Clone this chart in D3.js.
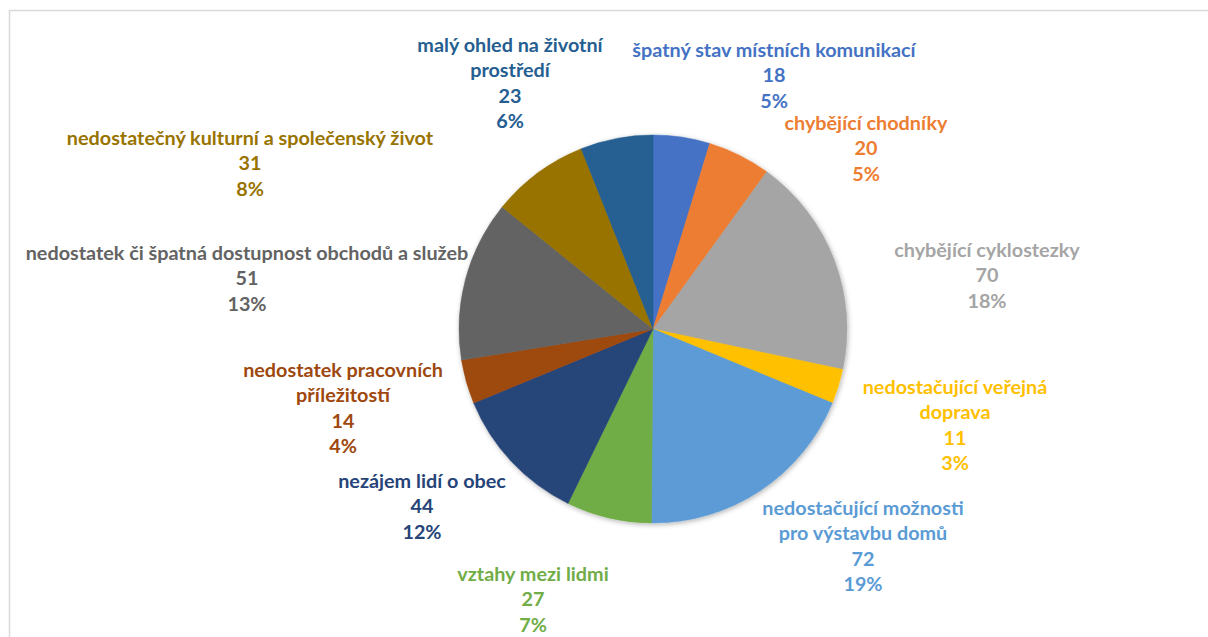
<!DOCTYPE html>
<html>
<head>
<meta charset="utf-8">
<script src="https://cdn.jsdelivr.net/npm/d3@7"></script>
<style>
  body { margin: 0; background: #fff; }
  text { font-family: Lato, "Open Sans", sans-serif; font-weight: bold; }
</style>
</head>
<body>
<svg width="1208" height="637"></svg>
<script>
// data
var categories = [
  "špatný stav místních komunikací",
  "chybějící chodníky",
  "chybějící cyklostezky",
  "nedostačující veřejná doprava",
  "nedostačující možnosti pro výstavbu domů",
  "vztahy mezi lidmi",
  "nezájem lidí o obec",
  "nedostatek pracovních příležitostí",
  "nedostatek či špatná dostupnost obchodů a služeb",
  "nedostatečný kulturní a společenský život",
  "malý ohled na životní prostředí"
];
var values = [18, 20, 70, 11, 72, 27, 44, 14, 51, 31, 23];

// how the category names wrap in the labels
var labelLines = [
  ["špatný stav místních komunikací"],
  ["chybějící chodníky"],
  ["chybějící cyklostezky"],
  ["nedostačující veřejná", "doprava"],
  ["nedostačující možnosti", "pro výstavbu domů"],
  ["vztahy mezi lidmi"],
  ["nezájem lidí o obec"],
  ["nedostatek pracovních", "příležitostí"],
  ["nedostatek či špatná dostupnost obchodů a služeb"],
  ["nedostatečný kulturní a společenský život"],
  ["malý ohled na životní", "prostředí"]
];

var colors = ["#4472C4", "#ED7D31", "#A5A5A5", "#FFC000", "#5B9BD5", "#70AD47",
              "#264478", "#9E480E", "#636363", "#997300", "#255E91"];

// label layout: centre x and centre of first line (hand placed like in the original)
var labelAt = [
  [774, 50], [866, 123], [987, 250], [955, 387], [863, 508], [533, 574],
  [422, 481], [343, 370], [247, 253], [250, 138], [510, 45]
];

var svg = d3.select("svg"),
    width = +svg.attr("width"),
    height = +svg.attr("height");

var cx = 653, cy = 329, radius = 194, lineH = 25.4;

// chart area border
svg.append("rect")
    .attr("x", 9.5).attr("y", 10.5)
    .attr("width", 1220).attr("height", 650)
    .attr("fill", "#fff")
    .attr("stroke", "#d9d9d9")
    .attr("stroke-width", 1.5);

var defs = svg.append("defs");
var f = defs.append("filter").attr("id", "shadow")
    .attr("x", "-10%").attr("y", "-10%").attr("width", "120%").attr("height", "120%");
f.append("feDropShadow")
    .attr("dx", 1).attr("dy", 1.5)
    .attr("stdDeviation", 2.5)
    .attr("flood-color", "#000")
    .attr("flood-opacity", 0.3);

var total = d3.sum(values);
var pie = d3.pie().sort(null).value(function(d) { return d; });
var arc = d3.arc().innerRadius(0).outerRadius(radius);

var arcs = pie(values);

var g = svg.append("g")
    .attr("transform", "translate(" + cx + "," + cy + ")")
    .attr("filter", "url(#shadow)");

g.selectAll("path")
    .data(arcs)
    .enter().append("path")
    .attr("d", arc)
    .attr("fill", function(d, i) { return colors[i]; })
    .attr("stroke", function(d, i) { return colors[i]; })
    .attr("stroke-width", 0.5);

var labels = svg.append("g")
    .selectAll("text")
    .data(arcs)
    .enter().append("text")
    .attr("text-anchor", "middle")
    .attr("font-size", 19.8)
    .attr("fill", function(d, i) { return colors[i]; });

labels.each(function(d, i) {
  var lines = labelLines[i].concat([String(values[i]), Math.round(values[i] / total * 100) + "%"]);
  var t = d3.select(this);
  lines.forEach(function(s, k) {
    t.append("tspan")
        .attr("x", labelAt[i][0])
        .attr("y", labelAt[i][1] + k * lineH + 7)
        .text(s);
  });
});
</script>
</body>
</html>
